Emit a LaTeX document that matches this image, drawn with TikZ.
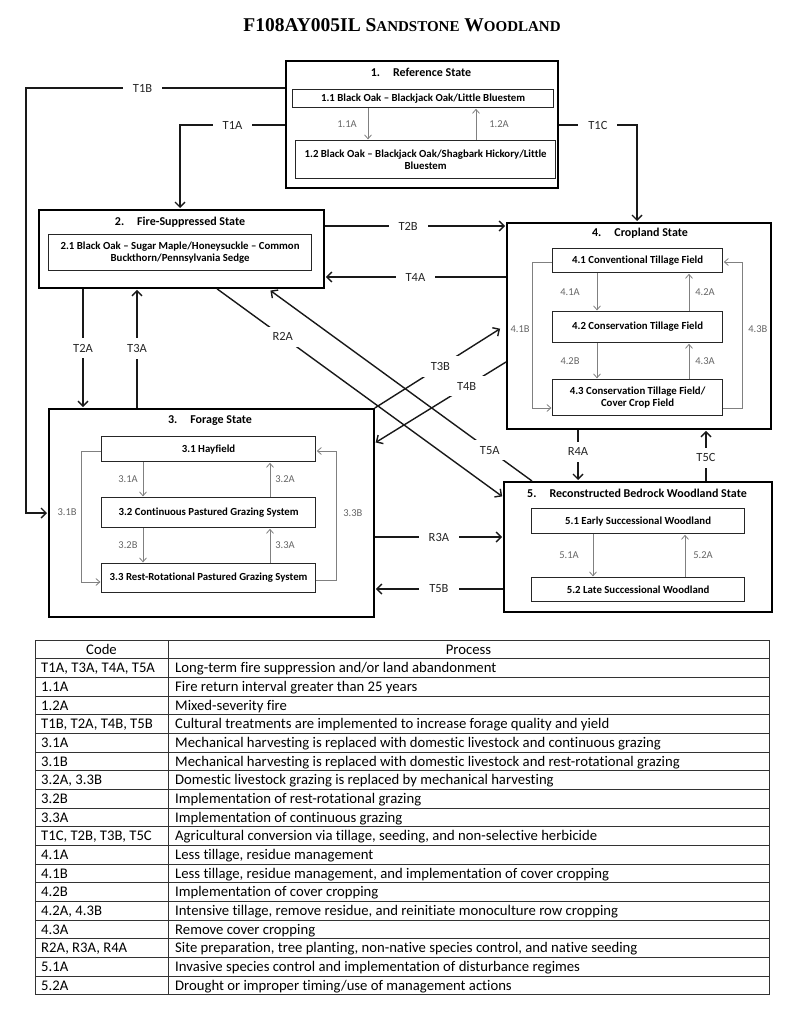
\documentclass[tikz,border=0pt]{standalone}
\usepackage{fontspec}
\setmainfont{Carlito}[Ligatures=NoCommon]
\newfontfamily\titlefont{Liberation Serif}
\usetikzlibrary{arrows.meta}
\begin{document}
\begin{tikzpicture}[x=1pt,y=-1pt,
  statebox/.style={draw=black, line width=1.8pt, inner sep=0pt, anchor=north west},
  subbox/.style={draw=black!85, line width=1.2pt, inner sep=0pt, anchor=north west, align=center,
    font=\bfseries\fontsize{10.8}{12}\selectfont},
  sttl/.style={font=\bfseries\fontsize{12}{12}\selectfont, inner sep=0pt},
  bigarrow/.style={draw=black!90, line width=1.4pt, shorten >=1pt, -{Straight Barb[length=5pt,width=10pt]}},
  garrow/.style={draw=black!50, line width=0.8pt, shorten >=0.6pt, -{Straight Barb[length=4pt,width=7pt]}},
  tlbl/.style={fill=white, font=\fontsize{12.5}{12.5}\selectfont, text=black!85, inner xsep=10pt, inner ysep=6pt},
  glbl/.style={font=\fontsize{10.5}{10.5}\selectfont, text=black!60, inner sep=1pt},
  tblline/.style={draw=black!80, line width=0.9pt},
  tbl/.style={font=\fontsize{14.7}{15}\selectfont, anchor=base west, inner sep=0pt},
  tblh/.style={font=\fontsize{14.7}{15}\selectfont, anchor=base, inner sep=0pt}]
\fill[white] (0,0) rectangle (800,1019);
\useasboundingbox (0,0) rectangle (800,1019);

% title
\node[font=\titlefont\bfseries\fontsize{19.5}{20}\selectfont, anchor=base, inner sep=0pt] (title) at (402,32)
  {F108AY005IL S{\fontsize{15}{15}\selectfont ANDSTONE} W{\fontsize{15}{15}\selectfont OODLAND}};

% state 1
\node[statebox, minimum width=272pt, minimum height=127pt] (s1) at (285,60) {};
\node[sttl] (s1t) at (421,72) {1.\hspace{13pt}Reference State};
\node[subbox, minimum width=261pt, minimum height=18pt] (b11) at (292,89) {1.1 Black Oak -- Blackjack Oak/Little Bluestem};
\node[subbox, minimum width=260pt, minimum height=38pt] (b12) at (295,140) {1.2 Black Oak -- Blackjack Oak/Shagbark Hickory/Little\\Bluestem};

% state 2
\node[statebox, minimum width=285pt, minimum height=78pt] (s2) at (38,209) {};
\node[sttl] (s2t) at (180,222) {2.\hspace{13pt}Fire-Suppressed State};
\node[subbox, minimum width=263pt, minimum height=36pt] (b21) at (48,234) {2.1 Black Oak -- Sugar Maple/Honeysuckle -- Common\\Buckthorn/Pennsylvania Sedge};

% state 3
\node[statebox, minimum width=325pt, minimum height=208pt] (s3) at (48,408) {};
\node[sttl] (s3t) at (210,421) {3.\hspace{13pt}Forage State};
\node[subbox, minimum width=214pt, minimum height=25pt] (b31) at (101,436) {3.1 Hayfield};
\node[subbox, minimum width=214pt, minimum height=30pt] (b32) at (101,497) {3.2 Continuous Pastured Grazing System};
\node[subbox, minimum width=214pt, minimum height=29pt] (b33) at (101,563) {3.3 Rest-Rotational Pastured Grazing System};

% state 4
\node[statebox, minimum width=264pt, minimum height=206pt] (s4) at (506,222) {};
\node[sttl] (s4t) at (640,233) {4.\hspace{13pt}Cropland State};
\node[subbox, minimum width=170pt, minimum height=24pt] (b41) at (552,248) {4.1 Conventional Tillage Field};
\node[subbox, minimum width=170pt, minimum height=31pt] (b42) at (552,311) {4.2 Conservation Tillage Field};
\node[subbox, minimum width=170pt, minimum height=36pt] (b43) at (552,379) {4.3 Conservation Tillage Field/\\Cover Crop Field};

% state 5
\node[statebox, minimum width=268pt, minimum height=130pt] (s5) at (503,481) {};
\node[sttl] (s5t) at (637,493) {5.\hspace{13pt}Reconstructed Bedrock Woodland State};
\node[subbox, minimum width=213pt, minimum height=25pt] (b51) at (531,508) {5.1 Early Successional Woodland};
\node[subbox, minimum width=213pt, minimum height=24pt] (b52) at (531,577) {5.2 Late Successional Woodland};

% transitions
\draw[bigarrow] (s1.west |- 0,88) -- node[tlbl,pos=0.55]{T1B} (26,88) -- (26,513) -- (s3.west |- 0,513);
\draw[bigarrow] (s1.west |- 0,125) -- node[tlbl]{T1A} (180,125) -- (s2.north -| 180,0);
\draw[bigarrow] (s1.east |- 0,125) -- node[tlbl]{T1C} (637,125) -- (s4.north -| 637,0);
\draw[bigarrow] (s2.east |- 0,226) -- node[tlbl,pos=0.46]{T2B} (s4.west |- 0,226);
\draw[bigarrow] (s4.west |- 0,277) -- node[tlbl]{T4A} (s2.east |- 0,277);
\draw[bigarrow] (s2.south -| 83,0) -- node[tlbl]{T2A} (s3.north -| 83,0);
\draw[bigarrow] (s3.north -| 137,0) -- node[tlbl]{T3A} (s2.south -| 137,0);
\draw[bigarrow, shorten >=7pt] (s3.north east) -- node[tlbl]{T3B} (s4.west |- 0,325);
\draw[bigarrow] (s4.west |- 0,362) -- node[tlbl,pos=0.3]{T4B} (s3.east |- 0,443);
\draw[bigarrow] (s2.south -| 217,0) -- node[tlbl,pos=0.23]{R2A} (s5.west |- 0,497);
\draw[bigarrow, shorten >=3pt] (s5.north -| 532,0) -- node[tlbl,pos=0.16]{T5A} (s2.south -| 268,0);
\draw[bigarrow] (s3.east |- 0,537) -- node[tlbl]{R3A} (s5.west |- 0,537);
\draw[bigarrow] (s5.west |- 0,589) -- node[tlbl]{T5B} (s3.east |- 0,589);
\draw[bigarrow] (s4.south -| 578,0) -- node[tlbl,pos=0.43]{R4A} (s5.north -| 578,0);
\draw[bigarrow] (s5.north -| 706,0) -- node[tlbl,pos=0.45]{T5C} (s4.south -| 706,0);

% inner pathways
\draw[garrow] (b11.south -| 368,0) -- node[glbl,xshift=-21pt]{1.1A} (b12.north -| 368,0);
\draw[garrow] (b12.north -| 476,0) -- node[glbl,xshift=23pt]{1.2A} (b11.south -| 476,0);

\draw[garrow] (b31.south -| 143,0) -- node[glbl,xshift=-15pt]{3.1A} (b32.north -| 143,0);
\draw[garrow] (b32.north -| 270,0) -- node[glbl,xshift=15pt]{3.2A} (b31.south -| 270,0);
\draw[garrow] (b32.south -| 143,0) -- node[glbl,xshift=-15pt]{3.2B} (b33.north -| 143,0);
\draw[garrow] (b33.north -| 270,0) -- node[glbl,xshift=15pt]{3.3A} (b32.south -| 270,0);
\draw[garrow] (b31.west |- 0,451) -- (81,451) -- node[glbl,left=3pt,pos=0.47]{3.1B} (81,582) -- (b33.west |- 0,582);
\draw[garrow] (b33.east |- 0,580) -- (336,580) -- node[glbl,right=6pt,pos=0.52]{3.3B} (336,451) -- (b31.east |- 0,451);

\draw[garrow] (b41.south -| 597,0) -- node[glbl,xshift=-27pt]{4.1A} (b42.north -| 597,0);
\draw[garrow] (b42.north -| 689,0) -- node[glbl,xshift=16pt]{4.2A} (b41.south -| 689,0);
\draw[garrow] (b42.south -| 597,0) -- node[glbl,xshift=-27pt]{4.2B} (b43.north -| 597,0);
\draw[garrow] (b43.north -| 689,0) -- node[glbl,xshift=16pt]{4.3A} (b42.south -| 689,0);
\draw[garrow] (b41.west |- 0,262) -- (532,262) -- node[glbl,left=1pt,pos=0.46]{4.1B} (532,408) -- (b43.west |- 0,408);
\draw[garrow] (b43.east |- 0,408) -- (742,408) -- node[glbl,right=5pt,pos=0.54]{4.3B} (742,262) -- (b41.east |- 0,262);

\draw[garrow] (b51.south -| 593,0) -- node[glbl,xshift=-24pt]{5.1A} (b52.north -| 593,0);
\draw[garrow] (b52.north -| 685,0) -- node[glbl,xshift=18pt]{5.2A} (b51.south -| 685,0);

% table
\foreach \i in {0,...,19} \draw[tblline] (35,{640+18.68*\i}) -- (769,{640+18.68*\i});
\draw[tblline] (35,640) -- (35,994.92);
\draw[tblline] (168,640) -- (168,994.92);
\draw[tblline] (769,640) -- (769,994.92);

\node[tblh] (c0) at (101.5,654.0) {Code};
\node[tblh] (p0) at (468.5,654.0) {Process};
\node[tbl] (c1) at (41,672.7) {T1A, T3A, T4A, T5A};
\node[tbl] (p1) at (175,672.7) {Long-term fire suppression and/or land abandonment};
\node[tbl] (c2) at (41,691.4) {1.1A};
\node[tbl] (p2) at (175,691.4) {Fire return interval greater than 25 years};
\node[tbl] (c3) at (41,710.1) {1.2A};
\node[tbl] (p3) at (175,710.1) {Mixed-severity fire};
\node[tbl] (c4) at (41,728.8) {T1B, T2A, T4B, T5B};
\node[tbl] (p4) at (175,728.8) {Cultural treatments are implemented to increase forage quality and yield};
\node[tbl] (c5) at (41,747.4) {3.1A};
\node[tbl] (p5) at (175,747.4) {Mechanical harvesting is replaced with domestic livestock and continuous grazing};
\node[tbl] (c6) at (41,766.1) {3.1B};
\node[tbl] (p6) at (175,766.1) {Mechanical harvesting is replaced with domestic livestock and rest-rotational grazing};
\node[tbl] (c7) at (41,784.8) {3.2A, 3.3B};
\node[tbl] (p7) at (175,784.8) {Domestic livestock grazing is replaced by mechanical harvesting};
\node[tbl] (c8) at (41,803.5) {3.2B};
\node[tbl] (p8) at (175,803.5) {Implementation of rest-rotational grazing};
\node[tbl] (c9) at (41,822.2) {3.3A};
\node[tbl] (p9) at (175,822.2) {Implementation of continuous grazing};
\node[tbl] (c10) at (41,840.8) {T1C, T2B, T3B, T5C};
\node[tbl] (p10) at (175,840.8) {Agricultural conversion via tillage, seeding, and non-selective herbicide};
\node[tbl] (c11) at (41,859.5) {4.1A};
\node[tbl] (p11) at (175,859.5) {Less tillage, residue management};
\node[tbl] (c12) at (41,878.2) {4.1B};
\node[tbl] (p12) at (175,878.2) {Less tillage, residue management, and implementation of cover cropping};
\node[tbl] (c13) at (41,896.9) {4.2B};
\node[tbl] (p13) at (175,896.9) {Implementation of cover cropping};
\node[tbl] (c14) at (41,915.6) {4.2A, 4.3B};
\node[tbl] (p14) at (175,915.6) {Intensive tillage, remove residue, and reinitiate monoculture row cropping};
\node[tbl] (c15) at (41,934.3) {4.3A};
\node[tbl] (p15) at (175,934.3) {Remove cover cropping};
\node[tbl] (c16) at (41,952.9) {R2A, R3A, R4A};
\node[tbl] (p16) at (175,952.9) {Site preparation, tree planting, non-native species control, and native seeding};
\node[tbl] (c17) at (41,971.6) {5.1A};
\node[tbl] (p17) at (175,971.6) {Invasive species control and implementation of disturbance regimes};
\node[tbl] (c18) at (41,990.3) {5.2A};
\node[tbl] (p18) at (175,990.3) {Drought or improper timing/use of management actions};
\end{tikzpicture}
\end{document}
